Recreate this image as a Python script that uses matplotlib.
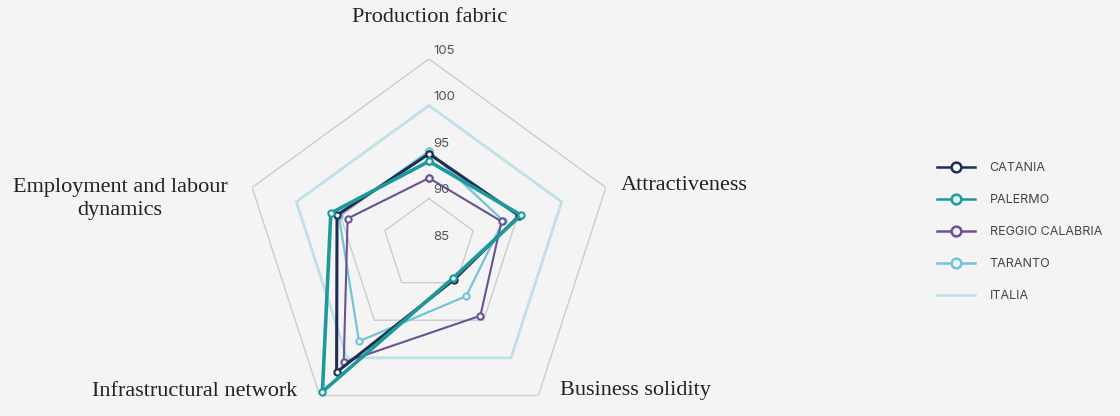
import numpy as np
import matplotlib
matplotlib.use("Agg")
import matplotlib.pyplot as plt
from matplotlib.lines import Line2D

categories = ["Production fabric", "Attractiveness", "Business solidity",
              "Infrastructural network", "Employment and labour\ndynamics"]
catania = [94.8, 95.2, 89.6, 101.9, 95.4]
palermo = [94.0, 95.4, 89.4, 104.5, 96.1]
reggio = [92.2, 93.2, 94.4, 100.6, 94.2]
taranto = [95.1, 93.4, 91.8, 97.8, 95.2]
italia = [100, 100, 100, 100, 100]
ticks = [85, 90, 95, 100, 105]

W, H = 1120, 416
bg = "#f4f4f4"
fig = plt.figure(figsize=(W / 100, H / 100), dpi=100, facecolor=bg)

cx, cy, R = 429, 245, 186
ax = fig.add_axes([(cx - R) / W, (H - cy - R) / H, 2 * R / W, 2 * R / H], projection="polar")
ax.set_facecolor("none")
ax.set_theta_offset(np.pi / 2)
ax.set_theta_direction(-1)
ax.set_ylim(85, 105)
ax.grid(False)
ax.spines["polar"].set_visible(False)
ax.set_xticks([])
ax.set_yticks([])

n = len(categories)
theta = np.linspace(0, 2 * np.pi, n, endpoint=False)
tc = np.append(theta, theta[0])

# grid rings
for t in [90, 95, 100, 105]:
    ax.plot(tc, [t] * (n + 1), color="#cccccc", lw=1.0, zorder=1)

def closed(v):
    return list(v) + [v[0]]

ax.plot(tc, closed(italia), color="#bde0e9", lw=2.0, zorder=2)

series = [
    ("TARANTO", taranto, "#72c4d6", 1.6),
    ("REGGIO CALABRIA", reggio, "#6c5294", 1.5),
    ("CATANIA", catania, "#1f2d52", 2.2),
    ("PALERMO", palermo, "#1c9a9b", 2.6),
]
for name, vals, col, lw in series:
    ax.plot(tc, closed(vals), color=col, lw=lw, marker="o", ms=4.5,
            mfc="#f4fbfb", mec=col, mew=1.5, zorder=3)

for t in ticks:
    ax.annotate(str(t), xy=(0, t), xytext=(3, 6), textcoords="offset points",
                ha="left", va="center", fontsize=9.5, color="#555555",
                family="Inter", zorder=5)

serif = "Liberation Serif"
lab_kw = dict(fontsize=16, family=serif, color="#222222")
fig.text(430 / W, 1 - 18 / H, categories[0], ha="center", va="center", **lab_kw)
fig.text(621 / W, 1 - 186 / H, categories[1], ha="left", va="center", **lab_kw)
fig.text(560 / W, 1 - 391 / H, categories[2], ha="left", va="center", **lab_kw)
fig.text(297 / W, 1 - 391 / H, categories[3], ha="right", va="center", **lab_kw)
fig.text(120 / W, 1 - 199 / H, categories[4], ha="center", va="center",
         linespacing=1.3, **lab_kw)

handles = [
    Line2D([], [], color="#1f2d52", lw=1.8, marker="o", ms=7, mfc="#f4fbfb", mec="#1f2d52", mew=1.8),
    Line2D([], [], color="#1c9a9b", lw=1.8, marker="o", ms=7, mfc="#e0f6f6", mec="#1c9a9b", mew=1.8),
    Line2D([], [], color="#6c5294", lw=1.8, marker="o", ms=7, mfc="#f4eefa", mec="#6c5294", mew=1.8),
    Line2D([], [], color="#72c4d6", lw=1.8, marker="o", ms=7, mfc="#e6f6fa", mec="#72c4d6", mew=1.8),
    Line2D([], [], color="#bde0e9", lw=1.8),
]
labels = ["CATANIA", "PALERMO", "REGGIO CALABRIA", "TARANTO", "ITALIA"]
leg = fig.legend(handles, labels, loc="upper left",
                 bbox_to_anchor=(926 / W, 1 - 151 / H), frameon=False,
                 handlelength=3.0, handletextpad=1.2, labelspacing=1.6,
                 prop={"family": "Inter", "size": 9})
for txt in leg.get_texts():
    txt.set_color("#444444")

fig.savefig("out.png", dpi=100, facecolor=bg)
